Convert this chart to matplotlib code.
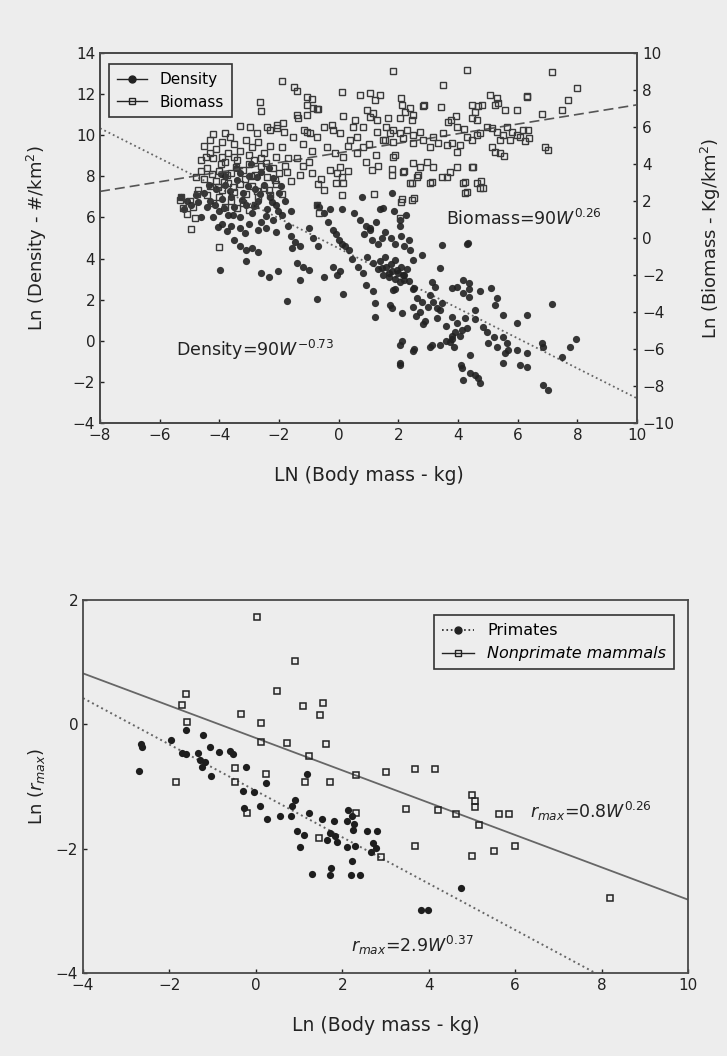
import numpy as np
import matplotlib
matplotlib.use("Agg")
import matplotlib.pyplot as plt
from matplotlib.lines import Line2D

# ---------------- data ----------------
# Top panel: ln(body mass) vs ln(density) [left axis] and ln(biomass) [right axis]
density_pts = [
    (-5.3, 7.0), (-5.1, 6.8), (-4.95, 6.6), (-5.2, 6.4), (-4.8, 7.1),
    (-4.5, 7.2), (-4.3, 6.8), (-4.1, 7.4), (-4.0, 6.3), (-3.9, 6.9), (-3.8, 7.6), (-3.7, 6.1),
    (-3.6, 7.0), (-3.5, 6.5), (-3.4, 7.8), (-3.3, 6.0), (-3.2, 7.2), (-3.1, 6.6), (-3.0, 8.0),
    (-2.9, 6.2), (-2.8, 7.4), (-2.7, 6.8), (-2.6, 5.8), (-2.5, 7.6), (-2.4, 6.4), (-2.3, 7.0),
    (-2.2, 5.9), (-2.1, 6.6), (-2.0, 7.2), (-1.9, 6.1), (-1.8, 6.8), (-1.7, 5.6), (-1.6, 6.3),
    (-4.2, 6.0), (-3.9, 5.7), (-3.6, 5.6), (-3.3, 5.5), (-3.0, 5.7), (-2.7, 5.4), (-4.4, 6.5),
    (-3.95, 8.1), (-3.45, 8.4), (-2.95, 8.6), (-2.6, 8.2), (-2.2, 7.9), (-2.35, 8.4), (-4.6, 6.0),
    (-4.35, 7.6), (-4.15, 6.6), (-3.85, 6.45), (-3.65, 7.3), (-3.55, 6.1), (-3.25, 6.85),
    (-3.05, 7.55), (-2.85, 6.55), (-2.65, 7.15), (-2.45, 6.05), (-2.25, 6.75), (-2.05, 6.3),
    (-1.95, 7.55), (-4.05, 5.55), (-3.75, 5.35), (-3.15, 5.25), (-2.45, 5.5), (-2.1, 5.3),
    (-4.7, 6.75), (-3.3, 8.15), (-2.75, 7.95), (-3.8, 8.0),
    (-3.5, 4.9), (-3.3, 4.6), (-3.1, 4.4), (-2.9, 4.5), (-2.7, 4.3), (-3.1, 3.9), (-2.6, 3.3),
    (-2.35, 3.1), (-2.05, 3.4), (-3.99, 3.44),
    (-1.6, 5.1), (-1.45, 4.8), (-1.3, 4.6), (-1.55, 4.5), (-1.4, 3.8), (-1.2, 3.6), (-1.0, 3.45),
    (-1.3, 2.96), (-0.5, 3.1), (-0.2, 3.6), (-0.05, 3.2), (0.05, 3.4),
    (-1.0, 5.5), (-0.85, 5.0), (-0.7, 4.6), (-0.5, 6.2), (-0.35, 5.8), (-0.2, 5.4), (-0.1, 5.2),
    (0.0, 4.9), (0.2, 4.6), (0.35, 4.4), (0.1, 4.7),
    (0.5, 6.2), (0.7, 5.9), (0.9, 5.6), (1.05, 5.4), (0.85, 5.2), (1.1, 4.9), (1.3, 4.7), (1.45, 5.0),
    (0.45, 4.0), (0.65, 3.6), (0.8, 3.3),
    (0.95, 4.1), (1.15, 3.8), (1.3, 3.5), (1.5, 3.2), (1.7, 3.1), (1.4, 3.9), (1.6, 3.6), (1.8, 3.4),
    (1.9, 3.0), (2.0, 3.3), (2.1, 3.6), (2.2, 3.2), (2.3, 3.5), (2.35, 2.9), (1.75, 3.75), (2.05, 2.85),
    (1.55, 5.3), (1.75, 5.0), (1.9, 4.7), (2.1, 5.1), (2.2, 4.6), (2.35, 4.9), (2.4, 4.4),
    (1.85, 6.3), (2.05, 5.9), (2.25, 6.1), (1.78, 7.17), (1.48, 6.45), (2.06, 5.6),
    (0.79, 7.0), (1.4, 6.4), (0.11, 6.4), (-0.3, 6.4), (-0.74, 6.6), (-0.65, 6.5), (1.04, 5.5),
    (1.26, 5.8), (4.33, 4.76), (-1.74, 1.96), (-0.74, 2.04), (0.16, 2.3), (0.9, 2.7), (1.14, 2.4),
    (1.21, 1.85), (1.21, 1.17), (1.87, 2.53), (2.54, 2.56), (2.9, 0.96), (3.11, -0.2), (2.07, -1.07),
    (1.55, 4.1), (1.95, 3.45), (2.15, 3.2), (1.7, 3.3), (2.2, 2.95), (1.45, 3.55), (1.9, 3.95),
    (2.5, 3.93), (2.78, 4.18), (3.45, 4.66), (3.4, 3.53), (4.29, 4.71), (1.81, 2.47), (2.5, 2.5),
    (2.62, 2.07), (1.72, 1.75), (1.78, 1.6), (2.11, 1.34), (2.5, 1.66), (2.73, 1.42), (2.84, 0.82),
    (3.06, 2.23), (3.17, 1.9), (3.29, 1.59), (3.0, 1.66), (3.4, 1.5), (3.45, 1.83), (3.12, 2.88),
    (3.23, 2.64), (3.79, 2.56), (3.96, 2.64), (4.18, 2.31), (4.18, 2.96), (4.35, 2.8), (4.35, 2.5),
    (4.38, 2.15), (4.74, 2.43), (5.11, 2.56), (5.3, 2.07), (5.24, 1.75), (4.57, 1.5), (4.24, 1.13),
    (4.57, 1.05), (3.79, 1.18), (3.96, 0.85), (4.12, 0.53), (3.9, 0.45), (4.07, 0.21), (4.29, 0.61),
    (3.79, 0.21), (3.73, -0.04), (3.85, -0.28), (3.4, -0.2), (3.06, -0.28), (2.06, -0.2), (2.5, -0.52),
    (2.06, -1.17), (4.4, -0.69), (4.12, -1.33), (4.18, -1.9), (4.4, -1.58), (4.57, -1.66),
    (4.68, -1.82), (4.74, -2.06), (4.85, 0.69), (4.96, 0.45), (5.19, 0.2), (5.3, -0.28), (5.52, 0.2),
    (5.63, -0.12), (5.69, -0.44), (5.58, -0.6), (5.02, -0.12), (5.52, 1.26), (5.97, 0.85),
    (6.3, 1.26), (5.97, -0.44), (6.3, -0.6), (5.52, -1.09), (6.08, -1.17), (6.3, -1.25),
    (6.8, -0.12), (6.86, -0.28), (7.14, 1.79), (6.86, -2.14), (7.03, -2.39), (7.48, -0.77),
    (7.76, -0.28), (7.96, 0.08), (2.11, 0.0), (2.54, -0.4), (3.6, 0.0), (3.8, 0.1), (4.1, -1.2),
    (2.8, 1.9), (2.6, 1.2), (3.3, 1.1), (3.6, 0.7),
]

biomass_pts = [
    (1.83, 9.05), (4.31, 9.1), (7.16, 9.0), (-1.91, 8.5), (-1.49, 8.15), (-1.39, 7.95),
    (-1.06, 7.6), (-0.9, 7.5), (-1.05, 7.2), (-0.85, 7.05), (-0.69, 6.95), (-2.64, 7.35),
    (-2.6, 6.85), (3.48, 8.25), (0.16, 6.6), (1.66, 6.5), (2.04, 6.5), (2.87, 7.2), (3.43, 7.1),
    (3.93, 6.6), (3.75, 6.4), (3.65, 6.25), (6.3, 7.65), (6.8, 6.7), (6.37, 5.4), (6.23, 5.25),
    (6.93, 4.9), (7.03, 4.75), (1.9, 4.5), (1.8, 3.73), (2.19, 3.64), (2.66, 3.41), (2.47, 3.0),
    (3.11, 3.05), (4.23, 3.05), (4.29, 2.5), (4.51, 3.86), (4.76, 3.1), (4.83, 2.7), (4.63, 2.96),
    (1.19, 2.39), (2.11, 2.1), (2.51, 2.15), (2.07, 1.1), (-0.74, 1.8), (-0.67, 1.35),
    (-4.96, 0.5), (-4.0, -0.5), (7.98, 8.1), (7.7, 7.45), (5.58, 6.92), (5.97, 6.92), (6.3, 7.64),
    (7.48, 6.92), (0.1, 7.9), (-3.81, 5.7), (2.82, 7.14),
    (2.08, 7.55), (2.11, 7.19), (2.22, 6.83), (2.39, 7.01), (2.5, 6.65), (2.45, 6.38), (4.46, 7.19),
    (4.68, 7.14), (4.79, 7.19), (4.57, 6.83), (4.46, 6.47), (4.62, 6.38), (5.07, 7.73), (5.3, 7.55),
    (5.24, 7.19), (5.35, 7.28),
    (4.96, 6.02), (5.13, 5.93), (5.3, 5.75), (5.63, 6.02), (5.8, 5.75), (5.97, 5.57), (6.19, 5.84),
    (6.36, 5.84), (5.52, 5.57), (5.41, 5.3), (5.74, 5.3), (6.08, 5.48), (4.74, 5.66),
    (5.13, 4.94), (5.24, 4.67), (5.41, 4.58), (5.54, 4.45),
    (1.83, 4.4), (1.78, 3.41), (2.15, 3.59), (2.62, 3.32), (2.39, 2.96), (3.06, 2.96), (4.18, 2.96),
    (4.24, 2.42), (4.74, 2.68), (4.46, 3.86), (3.96, 3.86), (3.73, 3.59), (3.62, 3.32), (3.45, 3.32),
    (2.5, 4.04), (2.73, 3.86), (2.95, 4.13), (3.17, 3.86), (2.08, 1.96), (2.47, 2.05),
    (1.6, 6.0), (1.83, 5.84), (2.06, 5.66), (2.28, 5.84), (2.5, 5.57), (2.73, 5.75), (1.55, 5.3),
    (1.83, 5.2), (2.17, 5.39), (2.5, 5.12), (2.84, 5.3), (3.17, 5.48), (3.06, 4.94), (3.34, 5.12),
    (3.62, 5.03), (3.79, 5.12), (4.07, 5.03), (3.96, 4.67), (4.29, 5.48), (4.46, 5.3), (4.62, 5.57),
    (3.96, 6.0), (4.2, 5.9), (3.5, 5.7),
    (-1.41, 6.65), (-1.07, 6.65), (-0.74, 7.0), (-1.52, 5.48), (-1.07, 5.75), (-0.74, 5.48),
    (-0.51, 6.0), (-0.18, 5.84), (0.05, 5.66), (-0.23, 6.1), (0.38, 5.3), (0.6, 5.48), (0.83, 6.0),
    (1.05, 6.56), (1.27, 5.75), (1.5, 5.3), (1.72, 5.66),
    (0.72, 7.73), (1.05, 7.82), (1.22, 7.46), (1.39, 7.73), (0.94, 6.92), (1.16, 6.74), (1.27, 6.38),
    (0.55, 6.38), (0.49, 6.02), (-1.35, 6.47), (-1.18, 5.84), (-0.96, 5.66), (-2.3, 5.84),
    (-2.08, 5.93), (-1.86, 6.2), (-3.31, 6.05),
    (-0.12, 4.58), (0.16, 4.4), (0.05, 3.86), (-0.07, 3.5), (0.16, 2.95),
    (-1.4, 4.3), (-1.2, 3.9), (-1.0, 4.1), (-0.9, 3.5), (-1.3, 3.4), (-0.7, 2.9), (-0.5, 2.6),
    (-0.6, 3.2), (-0.3, 3.7), (0.1, 3.3), (0.3, 3.6), (-0.1, 3.0), (0.1, 2.32), (0.9, 4.1),
    (1.1, 3.7), (1.3, 3.9), (0.6, 4.6), (0.8, 4.9), (1.0, 5.1), (1.25, 4.5), (-0.4, 4.9),
    (-0.9, 4.7), (-1.2, 5.1), (0.3, 5.0),
    (-2.97, 6.0), (-2.75, 5.66), (-2.41, 6.0), (-2.08, 6.1), (-1.85, 5.75),
    (-4.5, 5.0), (-4.3, 5.3), (-4.1, 4.8), (-3.9, 5.2), (-3.7, 4.6), (-3.5, 5.1), (-3.3, 4.7),
    (-3.1, 5.3), (-2.9, 4.9), (-2.7, 5.2), (-2.5, 4.6), (-2.3, 5.0), (-2.1, 4.4), (-1.9, 4.9),
    (-1.7, 4.3), (-4.6, 4.2), (-4.4, 3.8), (-4.2, 4.3), (-4.0, 3.6), (-3.8, 4.1), (-3.6, 3.5),
    (-3.4, 4.2), (-3.2, 3.7), (-3.0, 4.0), (-2.8, 3.4), (-2.6, 3.9), (-2.4, 3.3), (-2.2, 3.8),
    (-2.0, 3.5), (-1.8, 3.9), (-1.6, 3.1), (-4.5, 3.2), (-4.3, 2.8), (-4.1, 3.1), (-3.9, 2.6),
    (-3.7, 3.0), (-3.5, 2.5), (-3.3, 2.9), (-3.1, 2.4), (-2.9, 2.8), (-2.7, 2.2), (-2.5, 2.7),
    (-2.3, 2.3), (-2.1, 2.9), (-1.9, 2.4), (-4.4, 2.3), (-4.2, 1.9), (-4.0, 2.2), (-3.8, 1.7),
    (-3.6, 2.0), (-3.4, 1.6), (-3.2, 1.9), (-3.0, 1.5), (-2.8, 1.8), (-4.7, 2.6), (-4.8, 3.3),
    (-4.6, 3.6), (-4.3, 4.6), (-3.9, 4.4), (-3.5, 4.4), (-3.0, 4.5), (-2.6, 4.3),
    (-4.2, 5.6), (-3.95, 4.0), (-3.75, 3.4), (-3.45, 3.85), (-3.15, 3.2), (-2.85, 4.2),
    (-2.45, 4.05), (-2.15, 3.15), (-4.05, 2.75), (-3.55, 2.75), (-2.95, 3.35), (-3.65, 5.45),
    (-4.45, 4.4), (-2.75, 2.55), (-2.35, 2.6), (-1.75, 3.55), (-4.25, 3.45), (-3.85, 3.05),
    (-5.21, 1.6), (-4.87, 1.7), (-4.82, 1.06), (-5.3, 2.2), (-5.0, 2.0), (-4.75, 2.4),
    (-5.32, 2.05), (-5.1, 1.3),
]

# Bottom panel: ln(body mass) vs ln(r_max)
primates_pts = [
    (-2.70, -0.75), (-2.66, -0.32), (-2.63, -0.37), (-1.96, -0.25), (-1.62, -0.09), (-1.23, -0.17),
    (-1.72, -0.46), (-1.62, -0.47), (-1.35, -0.46), (-1.06, -0.36), (-0.85, -0.44), (-0.60, -0.43),
    (-0.54, -0.48), (-1.29, -0.57), (-1.18, -0.60), (-1.25, -0.68), (-1.04, -0.83), (-0.23, -0.68),
    (-0.29, -1.07), (-0.04, -1.09), (0.23, -0.94), (-0.27, -1.35), (0.10, -1.31), (0.25, -1.52),
    (0.56, -1.48), (0.81, -1.48), (0.83, -1.32), (0.91, -1.22), (1.18, -0.80), (1.24, -1.43),
    (1.53, -1.52), (0.95, -1.72), (1.12, -1.78), (1.02, -1.98), (1.80, -1.56), (1.72, -1.75),
    (1.84, -1.80), (1.65, -1.86), (1.88, -1.90), (2.14, -1.38), (2.22, -1.48), (2.10, -1.55),
    (2.26, -1.60), (2.24, -1.70), (2.57, -1.72), (2.80, -1.72), (2.72, -1.91), (2.78, -1.99),
    (2.66, -2.06), (2.10, -1.98), (2.30, -1.95), (2.22, -2.20), (1.29, -2.41), (1.73, -2.31),
    (1.72, -2.42), (2.20, -2.43), (2.41, -2.43), (4.75, -2.64), (3.82, -2.98), (3.99, -2.98),
]

nonprimates_pts = [
    (0.02, 1.72), (0.91, 1.02), (-1.62, 0.49), (0.48, 0.54), (-1.70, 0.31), (1.10, 0.30),
    (1.56, 0.34), (1.49, 0.15), (-0.34, 0.16), (0.11, 0.02), (-1.60, 0.03), (1.62, -0.32),
    (0.12, -0.28), (0.71, -0.30), (1.22, -0.51), (-0.48, -0.71), (0.23, -0.80), (-0.48, -0.93),
    (-1.86, -0.93), (1.14, -0.93), (1.72, -0.92), (2.31, -0.81), (3.01, -0.76), (3.69, -0.72),
    (4.14, -0.72), (3.48, -1.36), (-0.21, -1.43), (2.32, -1.43), (1.47, -1.83), (2.90, -2.14),
    (5.00, -1.13), (5.07, -1.24), (5.07, -1.33), (5.62, -1.44), (5.86, -1.45), (5.17, -1.62),
    (4.21, -1.37), (4.63, -1.45), (3.69, -1.95), (5.00, -2.12), (5.52, -2.04), (5.99, -1.96),
    (8.20, -2.79),
]

# fitted lines (intercept, slope) in log-log space
density_fit = (4.50, -0.73)
biomass_fit = (4.60, 0.26)
primates_fit = (-1.07, -0.373)
nonprimates_fit = (-0.22, -0.26)

top_xticks = list(range(-8, 11, 2))
top_left_yticks = list(range(-4, 15, 2))
top_right_yticks = list(range(-10, 11, 2))
bot_xticks = list(range(-4, 11, 2))
bot_yticks = list(range(-4, 3, 2))

# ---------------- drawing ----------------
plt.rcParams['font.family'] = ['DejaVu Sans']
plt.rcParams['mathtext.fontset'] = 'dejavusans'

BG = '#ededed'
SPINE = '#4a4a4a'
fig = plt.figure(figsize=(7.27, 10.56), dpi=100, facecolor=BG)

def style_axes(ax):
    ax.set_facecolor(BG)
    for s in ax.spines.values():
        s.set_color(SPINE)
        s.set_linewidth(1.3)
    ax.tick_params(direction='in', length=3, width=1, colors='#222222', labelsize=11)

# ---- top panel ----
ax1 = fig.add_axes([0.1376, 0.5994, 0.7387, 0.3504])
style_axes(ax1)
ax2 = ax1.twinx()
style_axes(ax2)
ax2.patch.set_visible(False)

dx, dy = zip(*density_pts)
bx, by = zip(*biomass_pts)
ax1.plot(dx, dy, 'o', ms=5.2, color='#222222', mec='none', alpha=0.9, zorder=3)
ax2.plot(bx, by, 's', ms=4.3, mfc='none', mec='#3a3a3a', mew=1.0, zorder=3)

xl = np.array([-8, 10])
ax1.plot(xl, density_fit[0] + density_fit[1] * xl, ':', color='#666666', lw=1.3, zorder=2)
ax2.plot(xl, biomass_fit[0] + biomass_fit[1] * xl, '--', color='#555555', lw=1.2,
         dashes=(6, 3), zorder=2)

ax1.set_xlim(-8, 10)
ax1.set_ylim(-4, 14)
ax2.set_ylim(-10, 10)
ax1.set_xticks(top_xticks)
ax1.set_yticks(top_left_yticks)
ax2.set_yticks(top_right_yticks)
ax1.set_xlabel('LN (Body mass - kg)', fontsize=13.5, color='#222222')
ax1.xaxis.set_label_coords(0.5, -0.115)
ax1.set_ylabel('Ln (Density - #/km$^2$)', fontsize=13, color='#222222')
ax1.yaxis.set_label_coords(-0.095, 0.5)
ax2.set_ylabel('Ln (Biomass - Kg/km$^2$)', fontsize=13, color='#222222')
ax2.yaxis.set_label_coords(1.115, 0.5)

ax1.text(-5.45, -0.45, 'Density=90$W^{-0.73}$', fontsize=12.5, color='#222222',
         va='center', ha='left')
ax1.text(3.6, 5.95, 'Biomass=90$W^{0.26}$', fontsize=12.5, color='#222222',
         va='center', ha='left')

h_top = [Line2D([], [], color='#222222', marker='o', ms=5, lw=1.0, ls='-'),
         Line2D([], [], color='#222222', marker='s', ms=4.5, mfc='none', lw=1.0, ls='-')]
leg1 = ax2.legend(h_top, ['Density', 'Biomass'], loc='upper left', fontsize=11,
                  frameon=True, fancybox=False, framealpha=1, facecolor=BG,
                  edgecolor='#333333', handlelength=2.0, borderpad=0.5,
                  bbox_to_anchor=(0.003, 0.99))
leg1.get_frame().set_linewidth(1.2)

# ---- bottom panel ----
ax3 = fig.add_axes([0.1142, 0.0786, 0.8322, 0.3532])
style_axes(ax3)
px, py = zip(*primates_pts)
nx, ny = zip(*nonprimates_pts)
xl2 = np.array([-4, 10])
ax3.plot(xl2, nonprimates_fit[0] + nonprimates_fit[1] * xl2, '-', color='#666666', lw=1.3, zorder=2)
ax3.plot(xl2, primates_fit[0] + primates_fit[1] * xl2, ':', color='#666666', lw=1.4, zorder=2)
ax3.plot(px, py, 'o', ms=5.2, color='#1e1e1e', mec='none', zorder=3)
ax3.plot(nx, ny, 's', ms=4.5, mfc='none', mec='#222222', mew=1.1, zorder=3)

ax3.set_xlim(-4, 10)
ax3.set_ylim(-4, 2)
ax3.set_xticks(bot_xticks)
ax3.set_yticks(bot_yticks)
ax3.set_xlabel('Ln (Body mass - kg)', fontsize=13.5, color='#222222')
ax3.xaxis.set_label_coords(0.5, -0.115)
ax3.set_ylabel('Ln ($r_{max}$)', fontsize=13, color='#222222')
ax3.yaxis.set_label_coords(-0.06, 0.5)

ax3.text(6.35, -1.40, '$r_{max}$=0.8$W^{0.26}$', fontsize=12.5, color='#222222',
         va='center', ha='left')
ax3.text(2.2, -3.55, '$r_{max}$=2.9$W^{0.37}$', fontsize=12.5, color='#222222',
         va='center', ha='left')

h_bot = [Line2D([], [], color='#222222', marker='o', ms=5, lw=1.2, ls=':'),
         Line2D([], [], color='#222222', marker='s', ms=4.5, mfc='none', lw=1.0, ls='-')]
leg2 = ax3.legend(h_bot, ['Primates', 'Nonprimate mammals'], loc='upper right', fontsize=11.5,
                  frameon=True, fancybox=False, framealpha=1, facecolor=BG,
                  edgecolor='#333333', handlelength=2.0, borderpad=0.5,
                  bbox_to_anchor=(0.99, 0.98))
leg2.get_frame().set_linewidth(1.2)
leg2.get_texts()[1].set_style('italic')

fig.savefig('out.png', dpi=100, facecolor=BG)
